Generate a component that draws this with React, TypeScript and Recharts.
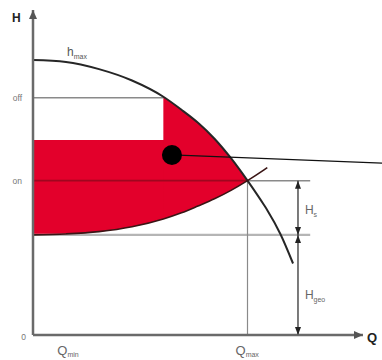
import React from 'react';
import { ComposedChart, XAxis, YAxis, Line, Area, ReferenceLine, ReferenceDot } from 'recharts';

const qValues = [0, 1, 2, 3, 3.95, 4.5, 5, 5.5, 6, 6.5, 7, 7.1, 7.5, 7.88];
// Pump curve head (H) at each Q
const pumpHead = [8.46, 8.4, 8.18, 7.83, 7.33, 6.93, 6.53, 6.04, 5.44, 4.75, 4.0, 3.84, 3.1, 2.2];
// System curve head (H) at each Q
const systemHead = [3.08, 3.11, 3.18, 3.33, 3.57, 3.76, 3.97, 4.19, 4.45, 4.75, 5.08, 5.15, null, null];

// Key levels
const hOff = 7.3;
const hOn = 4.75;
const hGeo = 3.08;
const hBand = 6.0;
const qMin = 1.1;
const qMax = 6.5;
const qSwitch = 3.95;
const qBandEnd = 4.5;
const qArrow = 8.03;
const qLineEnd = 8.4;
const dotPoint = { q: 4.21, h: 5.54 };
const leaderEnd = { q: 10.58, h: 5.29 };

// Tick labels
const yTickValues = [0, hOn, hOff];
const yTickLabels = ['0', 'on', 'off'];
const xTickValues = [qMin, qMax];
const xTickLabels = [['Q', 'min'], ['Q', 'max']];

const data = qValues.map((q, i) => ({
  q,
  pump: pumpHead[i],
  sys: systemHead[i],
  band: q <= qBandEnd && systemHead[i] != null ? [systemHead[i], hBand] : null,
  curveBand: q >= qSwitch && q <= qMax && systemHead[i] != null ? [systemHead[i], pumpHead[i]] : null,
}));

const FONT = '"Liberation Sans", Arial, sans-serif';
const RED = '#e3002b';
const DARKRED = '#a0061f';
const GRAY = '#8a8a8a';
const AXIS = '#6a6a6a';

const YTick = (props: any) => {
  const { x, y, payload } = props;
  const idx = yTickValues.indexOf(payload.value);
  const label = yTickLabels[idx];
  return (
    <text x={label === '0' ? x + 1 : x - 3} y={y + (label === '0' ? 5 : 3)} textAnchor="end" fontSize={8.5} fill="#777" fontFamily={FONT}>
      {label}
    </text>
  );
};

const XTick = (props: any) => {
  const { x, y, payload } = props;
  const idx = xTickValues.indexOf(payload.value);
  const [main, sub] = xTickLabels[idx];
  return (
    <text x={x - 12} y={y + 12} fontSize={13} fill="#666" fontFamily={FONT}>
      {main}
      <tspan fontSize={7} dy={2}>{sub}</tspan>
    </text>
  );
};

const arrow = (dir: 'up' | 'down' | 'right', w = 4, l = 9, color = '#222') => (p: any) => {
  const { cx, cy } = p;
  let d = '';
  if (dir === 'up') d = `M${cx},${cy} L${cx - w},${cy + l} L${cx + w},${cy + l} Z`;
  if (dir === 'down') d = `M${cx},${cy} L${cx - w},${cy - l} L${cx + w},${cy - l} Z`;
  if (dir === 'right') d = `M${cx},${cy} L${cx - l},${cy - w} L${cx - l},${cy + w} Z`;
  return <path d={d} fill={color} />;
};

const textShape = (main: string, sub: string, size: number, subSize: number, color: string, bold = false) => (p: any) => {
  const { cx, cy } = p;
  return (
    <text x={cx} y={cy} fontSize={size} fill={color} fontFamily={FONT} fontWeight={bold ? 'bold' : 'normal'}>
      {main}
      {sub ? <tspan fontSize={subSize} dy={size * 0.2}>{sub}</tspan> : null}
    </text>
  );
};

export default function App() {
  return (
    <div style={{ position: 'absolute', left: 0, top: 0 }}>
      <ComposedChart
        width={382}
        height={360}
        data={data}
        margin={{ top: 10, right: 19, bottom: 0, left: 0 }}
      >
        <XAxis
          dataKey="q"
          type="number"
          domain={[0, 10]}
          allowDataOverflow
          ticks={xTickValues}
          tick={<XTick />}
          tickLine={false}
          axisLine={{ stroke: AXIS, strokeWidth: 2.5 }}
          height={25}
        />
        <YAxis
          type="number"
          domain={[0, 10]}
          allowDataOverflow
          ticks={yTickValues}
          tick={<YTick />}
          tickLine={false}
          axisLine={{ stroke: AXIS, strokeWidth: 2.5 }}
          width={33}
        />
        <Area dataKey="band" type="monotone" fill={RED} fillOpacity={1} stroke="none" isAnimationActive={false} />
        <Area dataKey="curveBand" type="monotone" fill={RED} fillOpacity={1} stroke="none" isAnimationActive={false} />

        <ReferenceLine segment={[{ x: 0, y: hOff }, { x: qSwitch, y: hOff }]} stroke={GRAY} strokeWidth={1.5} />
        <ReferenceLine segment={[{ x: 0, y: hOn }, { x: qMax, y: hOn }]} stroke={DARKRED} strokeWidth={1.8} />
        <ReferenceLine segment={[{ x: qMax, y: hOn }, { x: qLineEnd, y: hOn }]} stroke={GRAY} strokeWidth={1.5} />
        <ReferenceLine segment={[{ x: 0, y: hGeo }, { x: qLineEnd, y: hGeo }]} stroke="#b5b5b5" strokeWidth={2.2} />
        <ReferenceLine segment={[{ x: qMax, y: 0 }, { x: qMax, y: hOn }]} stroke={GRAY} strokeWidth={1.2} />
        <ReferenceLine segment={[{ x: qArrow, y: 0 }, { x: qArrow, y: hOn }]} stroke="#333" strokeWidth={1.3} />

        <Line dataKey="pump" type="monotone" stroke="#262626" strokeWidth={2} dot={false} isAnimationActive={false} />
        <Line dataKey="sys" type="monotone" stroke="#3a1515" strokeWidth={1.6} dot={false} isAnimationActive={false} />

        <ReferenceLine
          segment={[{ x: dotPoint.q, y: dotPoint.h }, { x: leaderEnd.q, y: leaderEnd.h }]}
          stroke="#111"
          strokeWidth={1.3}
          ifOverflow="visible"
        />
        <ReferenceDot x={dotPoint.q} y={dotPoint.h} r={10} fill="#000" stroke="none" />

        <ReferenceDot x={qArrow} y={hOn} shape={arrow('up', 3, 8)} ifOverflow="visible" />
        <ReferenceDot x={qArrow} y={hGeo} shape={arrow('down', 3, 8)} ifOverflow="visible" />
        <ReferenceDot x={qArrow} y={hGeo} shape={arrow('up', 3, 8)} ifOverflow="visible" />
        <ReferenceDot x={qArrow} y={0} shape={arrow('down', 3, 8)} ifOverflow="visible" />

        <ReferenceDot x={10} y={0} shape={arrow('right', 4, 9, '#555')} ifOverflow="visible" />
        <ReferenceDot x={0} y={10} shape={arrow('up', 4, 9, '#555')} ifOverflow="visible" />

        <ReferenceDot x={1.03} y={8.58} shape={textShape('h', 'max', 12, 7, '#555')} ifOverflow="visible" />
        <ReferenceDot x={8.24} y={3.72} shape={textShape('H', 's', 12, 7, '#666')} ifOverflow="visible" />
        <ReferenceDot x={8.24} y={1.1} shape={textShape('H', 'geo', 12, 7, '#666')} ifOverflow="visible" />
        <ReferenceDot x={10.12} y={-0.2} shape={textShape('Q', '', 13, 7, '#222', true)} ifOverflow="visible" />
        <ReferenceDot x={-0.64} y={9.62} shape={textShape('H', '', 12, 7, '#222', true)} ifOverflow="visible" />
      </ComposedChart>
    </div>
  );
}
